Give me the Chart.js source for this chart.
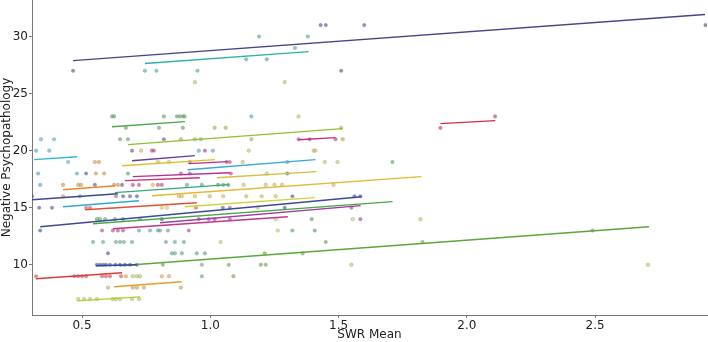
<!DOCTYPE html>
<html>
<head>
<meta charset="utf-8">
<script src="https://cdn.jsdelivr.net/npm/chart.js@4.4.1/dist/chart.umd.min.js"></script>
<style>html,body{margin:0;padding:0;background:#fff;}canvas{display:block;}</style>
</head>
<body>
<canvas id="c" width="708" height="342"></canvas>
<script>
// ---- data ----
const xTicks = [0.5, 1.0, 1.5, 2.0, 2.5];
const yTicks = [10, 15, 20, 25, 30];
const subjectColors = ['#45458a','#2db39e','#4da64a','#92bf2e','#c42a86','#d62a45','#35b3d3','#6b3a9c','#d8c22b','#c02b8e','#3aa8d8','#b8308f','#cc2f7a','#d0c040','#e8892a','#3aa874','#3a4a8e','#e2b930','#2fa9d6','#e0503a','#d4d03a','#3b4a9c','#48a848','#a23b9e','#c2368e','#34489a','#5aa83a','#de3a3a','#eb9a2a','#b8c832','#4aa396'];
// fitted line per subject: start x, start y, end x, end y (null = no line)
const lineX1 = [0.465,0.745,0.617,0.679,1.344,1.897,0.313,0.695,0.656,0.916,0.912,0.698,0.667,1.025,0.426,0.628,0.305,0.772,0.426,0.512,0.900,0.337,0.543,0.804,0.621,0.554,0.648,0.321,0.625,0.481,null];
const lineY1 = [27.89,27.63,22.10,20.53,20.96,22.37,19.21,19.12,18.68,18.86,18.33,17.72,17.37,17.63,16.58,16.32,15.70,16.05,15.09,14.82,15.09,13.33,13.60,13.68,13.16,9.91,9.91,8.77,8.07,6.84,null];
const lineX2 = [2.928,1.383,0.901,1.516,1.488,2.111,0.481,0.940,1.018,1.068,1.410,1.076,0.959,1.414,0.628,1.072,0.640,1.823,0.722,0.947,1.407,1.589,1.710,1.586,1.302,0.714,2.710,0.656,0.889,0.726,null];
const lineY2 = [31.93,28.68,22.54,21.93,21.14,22.63,19.47,19.56,19.21,19.04,19.21,18.07,17.63,18.16,16.93,17.02,16.23,17.72,15.61,15.44,15.88,15.96,15.53,15.18,14.21,10.00,13.33,9.30,8.51,7.19,null];
// observed points per subject [SWR Mean, Negative Psychopathology]
const s1 = [[1.43,31],[1.45,31],[1.60,31],[2.93,31],[0.465,27],[1.51,27]];
const s2 = [[1.19,30],[1.38,30],[1.33,29],[1.14,28],[1.22,28],[0.745,27],[0.79,27],[0.95,27]];
const s3 = [[0.617,23],[0.625,23],[0.819,23],[0.87,23],[0.881,23],[0.893,23],[0.9,23],[0.671,22],[0.80,22],[0.893,22],[0.648,21],[0.679,21]];
const s4 = [[1.017,22],[1.06,22],[1.51,22],[0.885,21],[0.94,21],[0.963,21],[1.16,21],[1.516,21]];
const s5 = [[1.344,21],[1.387,21],[1.488,21]];
const s6 = [[1.897,22],[2.11,23]];
const s7 = [[0.321,20],[0.372,20],[0.34,21],[0.391,21],[0.446,19]];
const s8 = [[0.695,20],[0.819,21]];
const s9 = [[0.73,20],[0.796,19],[0.839,19],[1.15,20]];
const s10 = [[0.772,20],[0.78,20],[0.979,20],[0.92,19],[1.064,19],[1.076,19]];
const s11 = [[0.955,20],[1.01,20],[1.30,19],[1.16,23]];
const s12 = [[0.885,18],[0.92,18],[1.08,18],[0.698,17]];
const s13 = [[0.722,17],[0.796,17],[0.811,17]];
const s14 = [[0.94,26],[1.29,26],[1.403,20],[1.41,20],[1.446,19],[1.496,19],[1.126,19],[1.22,18],[1.13,17],[1.216,17],[1.25,17],[1.28,17],[1.55,10],[2.706,10]];
const s15 = [[0.55,19],[0.566,19],[0.554,18],[0.586,18],[0.426,17],[0.485,17],[0.496,17],[0.625,17],[0.426,16],[0.64,17]];
const s16 = [[0.679,18],[0.909,17],[0.967,17],[1.03,17],[1.05,17],[1.07,17]];
const s17 = [[0.516,18],[0.55,17],[0.305,16],[0.656,17],[0.66,16],[0.687,16],[0.714,16]];
const s18 = [[1.344,23],[0.776,17],[1.48,17],[0.877,16],[0.889,16],[0.94,16],[0.998,16],[1.05,16],[1.14,16],[1.2,16],[1.255,16],[1.819,14]];
const s19 = [[0.329,18],[0.48,18],[0.337,17],[0.492,16]];
const s20 = [[0.516,15],[0.531,15],[0.944,15],[0.632,16]];
const s21 = [[0.811,15],[0.831,15],[1.185,15],[1.255,14],[1.555,14],[1.263,13],[1.04,12]];
const s22 = [[0.333,15],[0.383,15],[1.049,15],[1.29,15],[1.32,16],[1.562,16],[1.585,16],[0.337,13],[1.30,18],[0.811,14]];
const s23 = [[0.558,14],[0.57,14],[0.59,14],[0.628,14],[0.66,14],[0.726,14],[1.395,14],[1.71,19],[1.32,13],[1.407,13]];
const s24 = [[1.076,15],[1.55,15],[1.585,14],[0.994,14],[1.017,14]];
const s25 = [[0.578,13],[0.62,13],[0.64,13],[0.66,13],[0.916,13],[0.955,14],[1.076,14]];
const s26 = [[0.558,10],[0.57,10],[0.582,10],[0.593,10],[0.609,10],[0.601,11],[0.63,10],[0.648,10],[0.667,10],[0.687,10],[0.714,10]];
const s27 = [[0.815,10],[1.072,10],[1.197,10],[1.216,10],[2.49,13],[1.827,12],[1.45,12],[1.212,11],[1.36,11],[1.09,9]];
const s28 = [[0.321,9],[0.47,9],[0.485,9],[0.50,9],[0.516,9],[0.578,9],[0.593,9],[0.609,9],[0.652,9]];
const s29 = [[0.671,9],[0.811,9],[0.839,9],[0.698,8],[0.714,8],[0.741,8],[0.885,8]];
const s30 = [[0.485,7],[0.508,7],[0.531,7],[0.558,7],[0.62,7],[0.632,7],[0.648,7],[0.695,7],[0.722,7],[0.601,8],[0.698,9],[0.714,9],[0.726,9]];
const s31 = [[0.967,9],[0.967,10],[0.85,11],[0.862,11],[0.889,11],[0.947,11],[0.979,11],[0.722,13],[0.765,13],[0.796,13],[0.804,13],[0.835,13],[0.543,12],[0.582,12],[0.632,12],[0.648,12],[0.663,12],[0.695,12],[0.827,12],[0.862,12],[0.897,12]];
const subjectPoints = [s1,s2,s3,s4,s5,s6,s7,s8,s9,s10,s11,s12,s13,s14,s15,s16,s17,s18,s19,s20,s21,s22,s23,s24,s25,s26,s27,s28,s29,s30,s31];

// ---- chart ----
function rgba(hex, a){
  const n = parseInt(hex.slice(1),16);
  return 'rgba(' + ((n>>16)&255) + ',' + ((n>>8)&255) + ',' + (n&255) + ',' + a + ')';
}
const datasets = [];
subjectPoints.forEach((pts, i) => {
  datasets.push({
    data: pts.map(p => ({x:p[0], y:p[1]})),
    backgroundColor: rgba(subjectColors[i], 0.6),
    borderColor: 'rgba(130,130,130,0.45)',
    borderWidth: 0.6, pointRadius: 1.8, order: 2
  });
  if (lineX1[i] !== null) {
    datasets.push({
      data: [{x:lineX1[i], y:lineY1[i]}, {x:lineX2[i], y:lineY2[i]}],
      showLine: true, borderColor: subjectColors[i], borderWidth: 1.4,
      pointRadius: 0, fill: false, order: 1
    });
  }
});
const font = {family: 'DejaVu Sans', size: 12};
new Chart(document.getElementById('c'), {
  type: 'scatter',
  data: {datasets},
  options: {
    responsive: false, animation: false, devicePixelRatio: 1,
    layout: {autoPadding: false, padding: {top: 0, right: 1, bottom: 0, left: 0}},
    plugins: {legend: {display: false}, tooltip: {enabled: false}},
    scales: {
      x: {
        type: 'linear', min: 0.305, max: 2.936,
        afterBuildTicks: s => { s.ticks = xTicks.map(v => ({value: v})); },
        afterFit: s => { s.height = 27; s.paddingLeft = 0; s.paddingRight = 0; },
        ticks: {callback: v => Number(v).toFixed(1), color: '#222', font, padding: 1, maxRotation: 0},
        grid: {drawOnChartArea: false, drawTicks: true, tickLength: 3, color: '#777'},
        border: {color: '#777', width: 1},
        title: {display: true, text: 'SWR Mean', color: '#222', font, padding: 0}
      },
      y: {
        type: 'linear', min: 5.6, max: 33.2,
        afterBuildTicks: s => { s.ticks = yTicks.map(v => ({value: v})); },
        afterFit: s => { s.width = 32; s.paddingTop = 0; s.paddingBottom = 0; },
        ticks: {color: '#222', font, padding: 1},
        grid: {drawOnChartArea: false, drawTicks: true, tickLength: 3, color: '#777'},
        border: {color: '#777', width: 1},
        title: {display: true, text: 'Negative Psychopathology', color: '#222', font, padding: 0}
      }
    }
  }
});
</script>
</body>
</html>
